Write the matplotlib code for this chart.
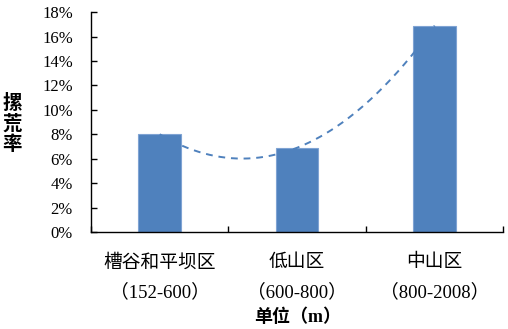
import numpy as np
import matplotlib.pyplot as plt

plt.rcParams['font.family'] = ['Liberation Serif', 'Noto Sans CJK SC']

# data
zones = ['槽谷和平坝区\n（152-600）', '低山区\n（600-800）', '中山区\n（800-2008）']
rate = [8.0, 6.9, 16.9]   # percent
yticks = np.arange(0, 19, 2)

blue = '#4F81BD'

fig = plt.figure(figsize=(5.08, 3.29), dpi=100)
ax = fig.add_axes([0.179, 0.295, 0.812, 0.668])

x = np.arange(len(rate))
ax.bar(x, rate, width=0.31, color=blue, edgecolor='#7FA3D3', linewidth=0.8, zorder=2)

# 2nd order polynomial trend line
coef = np.polyfit(x, rate, 2)
xs = np.linspace(x[0], x[-1], 200)
ax.plot(xs, np.polyval(coef, xs), color=blue, lw=1.4, ls=(0, (3.5, 3)), zorder=3)

ax.set_xlim(-0.5, len(rate) - 0.5)
ax.set_ylim(0, 18)
ax.set_yticks(yticks)
ax.set_yticklabels(['%d%%' % v for v in yticks], fontsize=12)

ax.set_xticks(np.arange(-0.5, len(rate)), minor=False)
ax.set_xticklabels([])
ax.set_xticks(x, minor=True)
ax.set_xticklabels(zones, minor=True, fontsize=13.5, linespacing=1.85)
ax.tick_params(axis='x', which='minor', length=0, pad=16)
ax.tick_params(axis='x', which='major', direction='in', length=4, width=1)
ax.tick_params(axis='y', direction='in', length=4, width=1, pad=13)

for s in ['top', 'right']:
    ax.spines[s].set_visible(False)
for s in ['left', 'bottom']:
    ax.spines[s].set_linewidth(1)

ax.set_xlabel('单位（m）', fontsize=13, fontweight='bold', labelpad=5)
fig.text(0.024, 0.623, '摞\n荒\n率', fontsize=14, fontweight='bold',
         ha='center', va='center', linespacing=1.1,
         family=['Noto Sans CJK SC'])

fig.savefig('out.png', dpi=100)
